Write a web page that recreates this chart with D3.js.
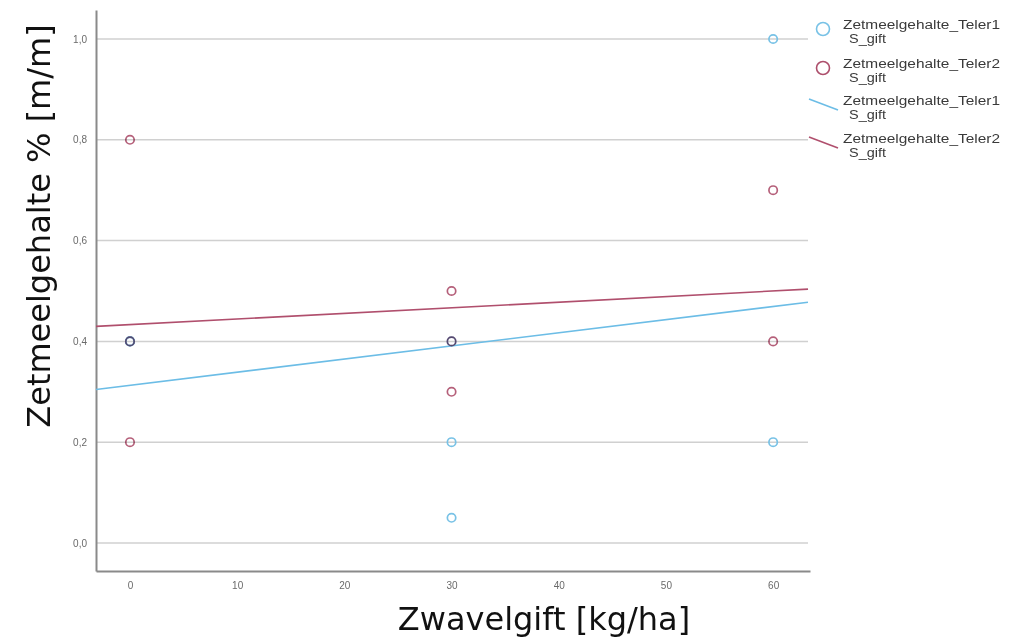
<!DOCTYPE html>
<html><head><meta charset="utf-8">
<script src="https://cdn.jsdelivr.net/npm/d3@7"></script>
<style>body{margin:0;background:#fff}svg{display:block}</style>
</head><body>
<svg id="chart" width="1015" height="639"></svg>
<script>
// Data
const sulfurDose = [0, 0, 0, 30, 30, 30, 60, 60];
const teler1 = [0.4, 0.4, 0.4, 0.4, 0.2, 0.05, 1.0, 0.2];
const teler2 = [0.8, 0.4, 0.2, 0.5, 0.4, 0.3, 0.7, 0.4];
const seriesNames = ["Zetmeelgehalte_Teler1", "Zetmeelgehalte_Teler2"];
const seriesSub = ["S_gift", "S_gift"];
const xTicks = [0, 10, 20, 30, 40, 50, 60];
const yTicks = [0, 0.2, 0.4, 0.6, 0.8, 1.0];
const xTitle = "Zwavelgift [kg/ha]";
const yTitle = "Zetmeelgehalte % [m/m]";

const colors = ["#78c2e6", "#ad4f6c"];
const lineColors = ["#6cbde6", "#b04f6d"];

const svg = d3.select("#chart");
const x = d3.scaleLinear().domain([-3.17, 63.44]).range([96, 810]);
const y = d3.scaleLinear().domain([-0.0556, 1.0575]).range([571, 10]);

// gridlines
svg.append("g").selectAll("line").data(yTicks).join("line")
  .attr("x1", x(-3.17)).attr("x2", 808)
  .attr("y1", d => y(d)).attr("y2", d => y(d))
  .attr("stroke", "#d0d0d0").attr("stroke-width", 1.5);

// axes
const fmt = d => d3.format(".1f")(d).replace(".", ",");
const yAxis = svg.append("g").attr("transform", `translate(${x.range()[0]},0)`)
  .call(d3.axisLeft(y).tickValues(yTicks).tickFormat(fmt).tickSize(0).tickPadding(9));
const xAxis = svg.append("g").attr("transform", `translate(0,${y.range()[0]})`)
  .call(d3.axisBottom(x).tickValues(xTicks).tickFormat(d3.format("d")).tickSize(0).tickPadding(11));
[xAxis, yAxis].forEach(a => {
  a.select(".domain").attr("stroke", "#8a8a8a").attr("stroke-width", 2);
  a.selectAll("text").attr("fill", "#6a6a6a").style("font-family", "Liberation Sans, Arial, sans-serif").style("font-size", "10px");
});

// regression lines computed from data
function fit(xs, ys) {
  const mx = d3.mean(xs), my = d3.mean(ys);
  let sxy = 0, sxx = 0;
  xs.forEach((v, i) => { sxy += (v - mx) * (ys[i] - my); sxx += (v - mx) ** 2; });
  const b = sxy / sxx;
  return { a: my - b * mx, b };
}
const series = [teler1, teler2];
const xd = [x.domain()[0], x.invert(808)];
series.forEach((ys, i) => {
  const f = fit(sulfurDose, ys);
  svg.append("path")
    .datum(xd.map(v => [v, f.a + f.b * v]))
    .attr("d", d3.line().x(d => x(d[0])).y(d => y(d[1])))
    .attr("fill", "none").attr("stroke", lineColors[i]).attr("stroke-width", 1.6);
});

// points
series.forEach((ys, i) => {
  const g = svg.append("g").selectAll("circle").data(ys).join("circle")
    .attr("cx", (d, j) => x(sulfurDose[j])).attr("cy", d => y(d)).attr("r", 4.2)
    .attr("fill", "none").attr("stroke", colors[i]).attr("stroke-width", 1.7);
  if (i === 1) g.style("mix-blend-mode", "multiply").attr("stroke-opacity", 0.9);
});

// axis titles
svg.append("text").attr("x", 544).attr("y", 630).attr("text-anchor", "middle")
  .style("font-family", "DejaVu Sans, sans-serif").style("font-size", "32px").attr("fill", "#111")
  .text(xTitle);
svg.append("text").attr("transform", "translate(50,226) rotate(-90)").attr("text-anchor", "middle")
  .style("font-family", "DejaVu Sans, sans-serif").style("font-size", "32px").attr("fill", "#111")
  .text(yTitle);

// legend
const lg = svg.append("g").style("font-family", "Liberation Sans, Arial, sans-serif").style("font-size", "12px");
const legendItems = [
  { type: "circle", s: 0, cy: 29 },
  { type: "circle", s: 1, cy: 68 },
  { type: "line", s: 0, cy: 105 },
  { type: "line", s: 1, cy: 143 }
];
legendItems.forEach(it => {
  if (it.type === "circle") {
    lg.append("circle").attr("cx", 823).attr("cy", it.cy).attr("r", 6.5)
      .attr("fill", "none").attr("stroke", colors[it.s]).attr("stroke-width", 1.6);
  } else {
    lg.append("line").attr("x1", 809).attr("y1", it.cy - 6).attr("x2", 838).attr("y2", it.cy + 5)
      .attr("stroke", lineColors[it.s]).attr("stroke-width", 1.6);
  }
  lg.append("text").attr("x", 843).attr("y", it.cy).attr("fill", "#3a3a3a")
    .attr("textLength", 157).attr("lengthAdjust", "spacingAndGlyphs").text(seriesNames[it.s]);
  lg.append("text").attr("x", 849).attr("y", it.cy + 13.5).attr("fill", "#3a3a3a")
    .attr("textLength", 37).attr("lengthAdjust", "spacingAndGlyphs").text(seriesSub[it.s]);
});
</script>
</body></html>
